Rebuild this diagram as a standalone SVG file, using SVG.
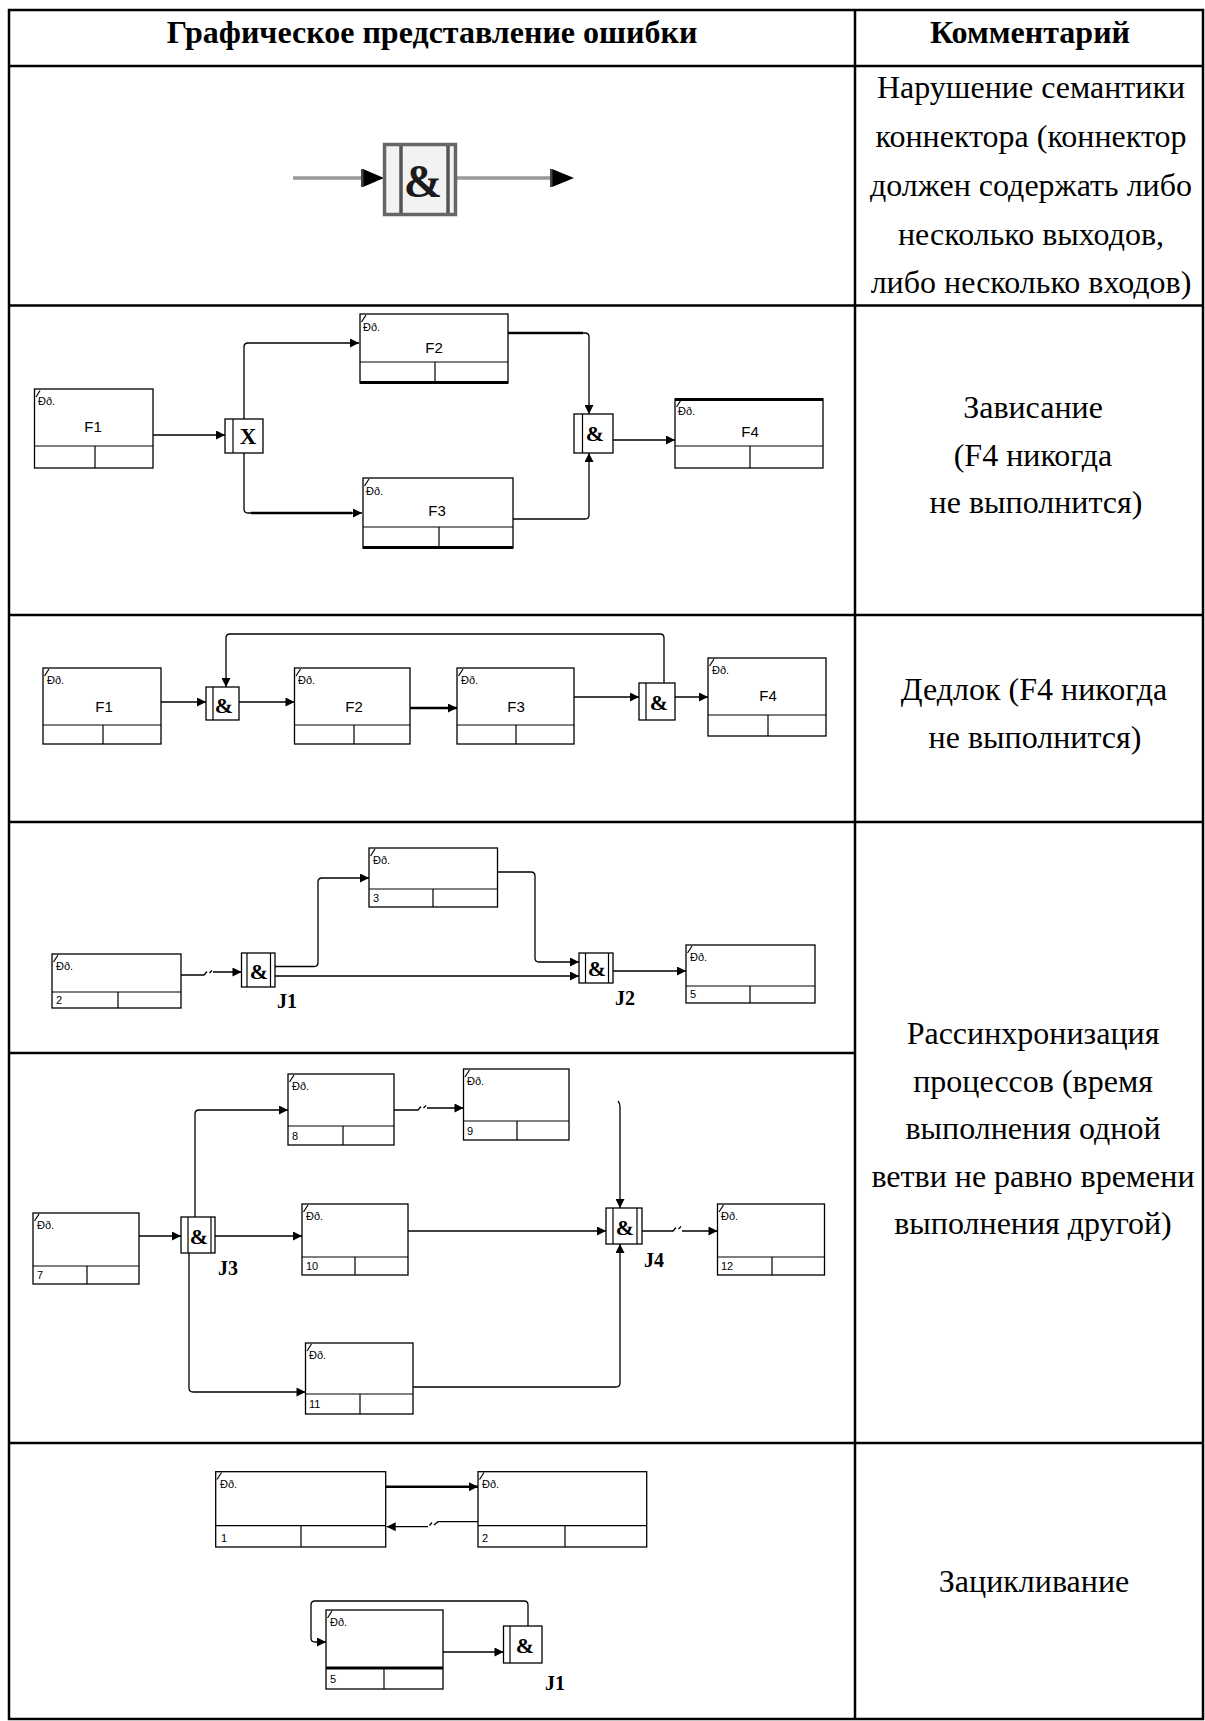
<svg xmlns="http://www.w3.org/2000/svg" width="1205" height="1721" viewBox="0 0 1205 1721">
<style>
  .tbl { fill: none; stroke: #000; stroke-width: 2.5; }
  .box { fill: #fff; stroke: #000; stroke-width: 1.3; }
  .ln { fill: none; stroke: #000; stroke-width: 1.2; }
  .bold { fill: none; stroke: #000; stroke-width: 2.8; }
  .edge { fill: none; stroke: #000; stroke-width: 1.3; }
  .thick { stroke-width: 2.6; }
  .lbl { font-family: "Liberation Sans", Arial, sans-serif; font-size: 11px; fill: #000; }
  .num { font-family: "Liberation Sans", Arial, sans-serif; font-size: 11px; fill: #000; }
  .fn { font-family: "Liberation Sans", Arial, sans-serif; font-size: 15px; text-anchor: middle; fill: #000; }
  .amp { font-family: "Liberation Serif", "Times New Roman", serif; font-weight: bold; font-size: 22px; text-anchor: middle; fill: #000; }
  .jl { font-family: "Liberation Serif", "Times New Roman", serif; font-weight: bold; font-size: 20px; text-anchor: middle; fill: #000; }
  .hd { font-family: "Liberation Serif", "Times New Roman", serif; font-weight: bold; font-size: 32px; text-anchor: middle; fill: #000; }
  .cm { font-family: "Liberation Serif", "Times New Roman", serif; font-size: 32px; text-anchor: middle; fill: #000; }
</style>
<defs>
  <marker id="ah" viewBox="0 0 10 10" refX="10" refY="5" markerWidth="10" markerHeight="9" markerUnits="userSpaceOnUse" orient="auto">
    <path d="M0,0 L10,5 L0,10 z" fill="#000"/>
  </marker>
</defs>

<rect x="0" y="0" width="1205" height="1721" fill="#fff"/>

<!-- table grid -->
<g id="table">
  <path class="tbl" d="M9,10 H1203 V1719 H9 Z"/>
  <path class="tbl" d="M855,10 V1719"/>
  <path class="tbl" d="M9,66 H1203 M9,305.5 H1203 M9,615 H1203 M9,822 H1203 M9,1053 H855 M9,1443 H1203"/>
</g>

<!-- header -->
<g id="header">
  <text class="hd" x="432" y="43">Графическое представление ошибки</text>
  <text class="hd" x="1030" y="43">Комментарий</text>
</g>

<!-- comments column -->
<g id="comments">
  <text class="cm" x="1031" y="98">Нарушение семантики</text>
  <text class="cm" x="1031" y="147">коннектора (коннектор</text>
  <text class="cm" x="1031" y="196">должен содержать либо</text>
  <text class="cm" x="1031" y="245">несколько выходов,</text>
  <text class="cm" x="1031" y="293">либо несколько входов)</text>

  <text class="cm" x="1033" y="418">Зависание</text>
  <text class="cm" x="1033" y="466">(F4 никогда</text>
  <text class="cm" x="1036" y="513">не выполнится)</text>

  <text class="cm" x="1034" y="700">Дедлок (F4 никогда</text>
  <text class="cm" x="1035" y="748">не выполнится)</text>

  <text class="cm" x="1033" y="1044">Рассинхронизация</text>
  <text class="cm" x="1033" y="1091.5">процессов (время</text>
  <text class="cm" x="1033" y="1139">выполнения одной</text>
  <text class="cm" x="1033" y="1186.5">ветви не равно времени</text>
  <text class="cm" x="1033" y="1234">выполнения другой)</text>

  <text class="cm" x="1034" y="1592">Зацикливание</text>
</g>

<!-- ===== row 1: connector with a single input and a single output ===== -->
<g id="r1-edges">
  <path d="M293,178 H364" stroke="#999" stroke-width="3.5" fill="none"/>
  <path d="M457,178 H552" stroke="#999" stroke-width="3.5" fill="none"/>
  <polygon points="363,169 384,178 363,187" fill="#000"/>
  <rect x="361" y="169" width="2.5" height="18" fill="#444"/>
  <polygon points="552,169 574,178 552,187" fill="#000"/>
  <rect x="550" y="169" width="2.5" height="18" fill="#444"/>
</g>
<g id="r1-and">
  <rect x="384.5" y="144.5" width="71" height="70" fill="#f2f2f2" stroke="#666" stroke-width="3.5"/>
  <line x1="401" y1="146" x2="401" y2="213" stroke="#555" stroke-width="3.5"/>
  <line x1="448" y1="146" x2="448" y2="213" stroke="#555" stroke-width="3.5"/>
  <text x="423" y="197" font-family="Liberation Serif, serif" font-weight="bold" font-size="46" text-anchor="middle" fill="#1a1a1a">&amp;</text>
</g>

<!-- ===== row 2: hang ===== -->
<g id="r2-f1">
  <rect class="box" x="34.5" y="389" width="118.5" height="79"/>
  <path class="ln" d="M34.5,446 H153 M95,446 V468"/>
  <path class="ln" d="M36,397 L40,390.5"/>
  <text class="lbl" x="38" y="405">Ðð.</text>
  <text class="fn" x="93" y="432">F1</text>
</g>
<g id="r2-x">
  <rect class="box" x="225" y="419" width="38" height="34"/>
  <line class="ln" x1="233" y1="419" x2="233" y2="453"/>
  <text x="248" y="444" font-family="Liberation Serif, serif" font-weight="bold" font-size="23" text-anchor="middle" fill="#000">X</text>
</g>
<g id="r2-f2">
  <rect class="box" x="360" y="314" width="148" height="69"/>
  <path class="ln" d="M360,362 H508 M435,362 V383"/>
  <path class="bold" d="M360,382.5 H508"/>
  <path class="ln" d="M361.5,322 L366,315"/>
  <text class="lbl" x="363" y="331">Ðð.</text>
  <text class="fn" x="434" y="353">F2</text>
</g>
<g id="r2-f3">
  <rect class="box" x="363" y="478" width="150" height="70"/>
  <path class="ln" d="M363,527 H513 M439,527 V548"/>
  <path class="bold" d="M363,547.5 H513"/>
  <path class="ln" d="M364.5,486 L369,479"/>
  <text class="lbl" x="366" y="495">Ðð.</text>
  <text class="fn" x="437" y="516">F3</text>
</g>
<g id="r2-and">
  <rect class="box" x="574" y="414" width="39" height="39"/>
  <line class="ln" x1="582.5" y1="414" x2="582.5" y2="453"/>
  <text class="amp" x="595" y="441">&amp;</text>
</g>
<g id="r2-f4">
  <rect class="box" x="675" y="399" width="148" height="69"/>
  <path class="ln" d="M675,446 H823 M750,446 V468"/>
  <path class="bold" d="M675,399.5 H823"/>
  <path class="ln" d="M676.5,407 L681,400"/>
  <text class="lbl" x="678" y="415">Ðð.</text>
  <text class="fn" x="750" y="437">F4</text>
</g>
<g id="r2-edges">
  <path class="edge" d="M153,435 H225" marker-end="url(#ah)"/>
  <path class="edge" d="M244,419 V347 Q244,343 248,343 H359" marker-end="url(#ah)"/>
  <path class="edge" d="M244,453 V509 Q244,513 248,513 H362" marker-end="url(#ah)"/>
  <path class="edge thick" d="M251,513 H352"/>
  <path class="edge" d="M508,333 H585 Q589,333 589,337 V414" marker-end="url(#ah)"/>
  <path class="edge thick" d="M508,333 H583"/>
  <path class="edge" d="M513,519 H585 Q589,519 589,515 V453" marker-end="url(#ah)"/>
  <path class="edge" d="M613,440 H675" marker-end="url(#ah)"/>
</g>

<!-- ===== row 3: deadlock ===== -->
<g id="r3-f1">
  <rect class="box" x="43" y="668" width="118" height="76"/>
  <path class="ln" d="M43,725 H161 M103,725 V744"/>
  <path class="ln" d="M44.5,676 L49,669"/>
  <text class="lbl" x="47" y="684">Ðð.</text>
  <text class="fn" x="104" y="712">F1</text>
</g>
<g id="r3-and1">
  <rect class="box" x="206" y="687" width="33" height="33"/>
  <line class="ln" x1="213" y1="687" x2="213" y2="720"/>
  <text class="amp" x="224" y="713">&amp;</text>
</g>
<g id="r3-f2">
  <rect class="box" x="294.5" y="668" width="115.5" height="76"/>
  <path class="ln" d="M294.5,725 H410 M354,725 V744"/>
  <path class="ln" d="M296,676 L300.5,669"/>
  <text class="lbl" x="298" y="684">Ðð.</text>
  <text class="fn" x="354" y="712">F2</text>
</g>
<g id="r3-f3">
  <rect class="box" x="457" y="668" width="117" height="76"/>
  <path class="ln" d="M457,725 H574 M516,725 V744"/>
  <path class="ln" d="M458.5,676 L463,669"/>
  <text class="lbl" x="461" y="684">Ðð.</text>
  <text class="fn" x="516" y="712">F3</text>
</g>
<g id="r3-and2">
  <rect class="box" x="639" y="683" width="36" height="37"/>
  <line class="ln" x1="646" y1="683" x2="646" y2="720"/>
  <text class="amp" x="659" y="710">&amp;</text>
</g>
<g id="r3-f4">
  <rect class="box" x="708" y="658" width="118" height="78"/>
  <path class="ln" d="M708,715 H826 M768,715 V736"/>
  <path class="ln" d="M709.5,666 L714,659"/>
  <text class="lbl" x="712" y="674">Ðð.</text>
  <text class="fn" x="768" y="701">F4</text>
</g>
<g id="r3-edges">
  <path class="edge" d="M161,702 H206" marker-end="url(#ah)"/>
  <path class="edge" d="M239,702 H294.5" marker-end="url(#ah)"/>
  <path class="edge thick" d="M410,708 H457" marker-end="url(#ah)"/>
  <path class="edge" d="M574,697 H639" marker-end="url(#ah)"/>
  <path class="edge" d="M675,697 H708" marker-end="url(#ah)"/>
  <path class="edge" d="M664,683 V638 Q664,634 660,634 H230 Q226,634 226,638 V687" marker-end="url(#ah)"/>
</g>

<!-- ===== row 4a: desynchronisation, simple case ===== -->
<g id="r4-n2">
  <rect class="box" x="52" y="954" width="129" height="54"/>
  <path class="ln" d="M52,992 H181 M118,992 V1008"/>
  <path class="ln" d="M53.5,962 L58,955"/>
  <text class="lbl" x="56" y="970">Ðð.</text>
  <text class="num" x="56" y="1004">2</text>
</g>
<g id="r4-j1">
  <rect class="box" x="241.5" y="953" width="33.5" height="34"/>
  <line class="ln" x1="247" y1="953" x2="247" y2="987"/>
  <line class="ln" x1="270.5" y1="953" x2="270.5" y2="987"/>
  <text class="amp" x="259" y="979">&amp;</text>
  <text class="jl" x="287" y="1008">J1</text>
</g>
<g id="r4-n3">
  <rect class="box" x="369" y="848" width="128.5" height="59"/>
  <path class="ln" d="M369,889 H497.5 M433,889 V907"/>
  <path class="ln" d="M370.5,856 L375,849"/>
  <text class="lbl" x="373" y="864">Ðð.</text>
  <text class="num" x="373" y="902">3</text>
</g>
<g id="r4-j2">
  <rect class="box" x="579" y="953" width="34" height="30"/>
  <line class="ln" x1="585.5" y1="953" x2="585.5" y2="983"/>
  <line class="ln" x1="608.5" y1="953" x2="608.5" y2="983"/>
  <text class="amp" x="597" y="976">&amp;</text>
  <text class="jl" x="625" y="1005">J2</text>
</g>
<g id="r4-n5">
  <rect class="box" x="686" y="945" width="129" height="58"/>
  <path class="ln" d="M686,986 H815 M750,986 V1003"/>
  <path class="ln" d="M687.5,953 L692,946"/>
  <text class="lbl" x="690" y="961">Ðð.</text>
  <text class="num" x="690" y="998">5</text>
</g>
<g id="r4-edges">
  <path class="edge" d="M181,975 H204 L207,971.5 M209.5,973 L212,970.5 M213,972 H241.5" marker-end="url(#ah)"/>
  <path class="edge" d="M275,966.5 H314 Q318,966.5 318,962.5 V882 Q318,878 322,878 H369" marker-end="url(#ah)"/>
  <path class="edge" d="M275,976 H579" marker-end="url(#ah)"/>
  <path class="edge" d="M497.5,872 H531 Q535,872 535,876 V958 Q535,962 539,962 H579" marker-end="url(#ah)"/>
  <path class="edge" d="M613,971 H686" marker-end="url(#ah)"/>
</g>

<!-- ===== row 4b: desynchronisation, three branches ===== -->
<g id="r4-n7">
  <rect class="box" x="33" y="1213" width="106" height="71"/>
  <path class="ln" d="M33,1266 H139 M87,1266 V1284"/>
  <path class="ln" d="M34.5,1221 L39,1214"/>
  <text class="lbl" x="37" y="1229">Ðð.</text>
  <text class="num" x="37" y="1279">7</text>
</g>
<g id="r4-j3">
  <rect class="box" x="181" y="1217" width="34" height="36"/>
  <line class="ln" x1="188" y1="1217" x2="188" y2="1253"/>
  <line class="ln" x1="211" y1="1217" x2="211" y2="1253"/>
  <text class="amp" x="199" y="1244">&amp;</text>
  <text class="jl" x="228" y="1275">J3</text>
</g>
<g id="r4-n8">
  <rect class="box" x="288" y="1074" width="106" height="71"/>
  <path class="ln" d="M288,1126 H394 M343,1126 V1145"/>
  <path class="ln" d="M289.5,1082 L294,1075"/>
  <text class="lbl" x="292" y="1090">Ðð.</text>
  <text class="num" x="292" y="1140">8</text>
</g>
<g id="r4-n9">
  <rect class="box" x="463.5" y="1069" width="105.5" height="71"/>
  <path class="ln" d="M463.5,1121 H569 M517,1121 V1140"/>
  <path class="ln" d="M465,1077 L469.5,1070"/>
  <text class="lbl" x="467" y="1085">Ðð.</text>
  <text class="num" x="467" y="1135">9</text>
</g>
<g id="r4-n10">
  <rect class="box" x="302" y="1204" width="106" height="71"/>
  <path class="ln" d="M302,1257 H408 M355,1257 V1275"/>
  <path class="ln" d="M303.5,1212 L308,1205"/>
  <text class="lbl" x="306" y="1220">Ðð.</text>
  <text class="num" x="306" y="1270">10</text>
</g>
<g id="r4-n11">
  <rect class="box" x="305.5" y="1343" width="107.5" height="71"/>
  <path class="ln" d="M305.5,1394 H413 M360,1394 V1414"/>
  <path class="ln" d="M307,1351 L311.5,1344"/>
  <text class="lbl" x="309" y="1359">Ðð.</text>
  <text class="num" x="309" y="1408">11</text>
</g>
<g id="r4-j4">
  <rect class="box" x="606" y="1208" width="36" height="36"/>
  <line class="ln" x1="613" y1="1208" x2="613" y2="1244"/>
  <line class="ln" x1="637" y1="1208" x2="637" y2="1244"/>
  <text class="amp" x="625" y="1235">&amp;</text>
  <text class="jl" x="654" y="1267">J4</text>
</g>
<g id="r4-n12">
  <rect class="box" x="717.5" y="1204" width="107" height="71"/>
  <path class="ln" d="M717.5,1257 H824.5 M772,1257 V1275"/>
  <path class="ln" d="M719,1212 L723.5,1205"/>
  <text class="lbl" x="721" y="1220">Ðð.</text>
  <text class="num" x="721" y="1270">12</text>
</g>
<g id="r4b-edges">
  <path class="edge" d="M139,1236 H181" marker-end="url(#ah)"/>
  <path class="edge" d="M195,1217 V1114 Q195,1110 199,1110 H288" marker-end="url(#ah)"/>
  <path class="edge" d="M215,1236 H302" marker-end="url(#ah)"/>
  <path class="edge" d="M189,1253 V1388 Q189,1392 193,1392 H305.5" marker-end="url(#ah)"/>
  <path class="edge" d="M394,1110 H418 L421,1106.5 M423.5,1108 L426,1105.5 M427,1108 H463.5" marker-end="url(#ah)"/>
  <path class="edge" d="M618,1101 Q620,1103 620,1107 V1208" marker-end="url(#ah)"/>
  <path class="edge" d="M408,1231 H606" marker-end="url(#ah)"/>
  <path class="edge" d="M413,1387 H616 Q620,1387 620,1383 V1244" marker-end="url(#ah)"/>
  <path class="edge" d="M642,1231 H673 L676,1227.5 M678.5,1229 L681,1226.5 M682,1231 H717.5" marker-end="url(#ah)"/>
</g>

<!-- ===== row 5: looping ===== -->
<g id="r5-n1">
  <rect class="box" x="215.7" y="1471.7" width="170" height="75.3"/>
  <path class="ln" d="M215.7,1525.7 H385.7 M301,1525.7 V1547"/>
  <path class="ln" d="M217,1479.5 L221.5,1472.5"/>
  <text class="lbl" x="220" y="1488">Ðð.</text>
  <text class="num" x="221" y="1542">1</text>
</g>
<g id="r5-n2">
  <rect class="box" x="478" y="1471.7" width="168.7" height="75.3"/>
  <path class="ln" d="M478,1525.7 H646.7 M565,1525.7 V1547"/>
  <path class="ln" d="M479.5,1479.5 L484,1472.5"/>
  <text class="lbl" x="482" y="1488">Ðð.</text>
  <text class="num" x="482" y="1542">2</text>
</g>
<g id="r5-n5">
  <rect class="box" x="326" y="1610" width="117" height="79"/>
  <path class="bold" d="M326,1668 H443"/>
  <path class="ln" d="M384,1668 V1689"/>
  <path class="ln" d="M327.5,1618 L332,1611"/>
  <text class="lbl" x="330" y="1626">Ðð.</text>
  <text class="num" x="330" y="1683">5</text>
</g>
<g id="r5-j1">
  <rect class="box" x="503.5" y="1626" width="38.5" height="37"/>
  <line class="ln" x1="510" y1="1626" x2="510" y2="1663"/>
  <text class="amp" x="525" y="1653">&amp;</text>
  <text class="jl" x="555" y="1690">J1</text>
</g>
<g id="r5-edges">
  <path class="edge thick" d="M385.7,1486.7 H478" marker-end="url(#ah)"/>
  <path class="edge" d="M478,1521.7 H438 L434,1525 M432,1522.5 L429.5,1525.5 M428,1526.7 H386.7" marker-end="url(#ah)"/>
  <path class="edge" d="M443,1652 H503.5" marker-end="url(#ah)"/>
  <path class="edge" d="M528,1626 V1605 Q528,1601 524,1601 H315 Q311,1601 311,1605 V1638 Q311,1642 315,1642 H326" marker-end="url(#ah)"/>
</g>
</svg>
